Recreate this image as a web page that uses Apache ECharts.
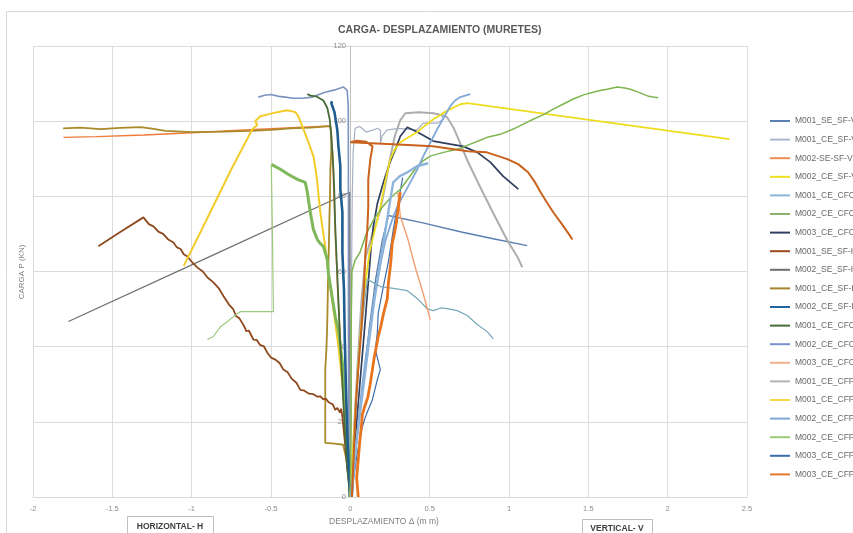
<!DOCTYPE html>
<html>
<head>
<meta charset="utf-8">
<script src="https://cdn.jsdelivr.net/npm/echarts@6/dist/echarts.min.js"></script>
<style>
html,body{margin:0;padding:0;background:#fff;}
#chart{width:853px;height:533px;}
</style>
</head>
<body>
<div id="chart"></div>
<script>
// ---- Axis ticks ----
const xTicks = [-2, -1.5, -1, -0.5, 0, 0.5, 1, 1.5, 2, 2.5];
const yTicks = [0, 20, 40, 60, 80, 100, 120];

// ---- Legend names (order as in reference) ----
const seriesNames = ["M001_SE_SF-V","M001_CE_SF-V","M002-SE-SF-V","M002_CE_SF-V","M001_CE_CFC-V","M002_CE_CFC-V","M003_CE_CFC-V","M001_SE_SF-H","M002_SE_SF-H","M001_CE_SF-H","M002_CE_SF-H","M001_CE_CFC-H","M002_CE_CFC-H","M003_CE_CFC-H","M001_CE_CFP-V","M001_CE_CFP-H","M002_CE_CFP-V","M002_CE_CFP-H","M003_CE_CFP-V","M003_CE_CFP-H"];

// ---- Data: [displacement mm, load kN] ----
const M001_SE_SF_V = [[0,0],[0.04,15],[0.08,30],[0.12,45],[0.16,58],[0.2,68],[0.24,74.9],[0.45,73],[0.7,70.5],[0.9,68.7],[1.115,66.9]];
const M001_CE_SF_V = [[0,0],[0.005,30],[0.008,60],[0.012,80],[0.018,92],[0.03,98.1],[0.06,98.6],[0.1,97.1],[0.14,97.6],[0.17,98.1],[0.19,97.5],[0.19,94],[0.2,96],[0.23,97.6],[0.3,98.1],[0.36,97.9],[0.42,97.6],[0.46,99.5],[0.55,99.5],[0.586,100.5],[0.57,102]];
const M002_SE_SF_V = [[0,0],[-0.02,10],[-0.04,25],[-0.06,40],[-0.08,55],[-0.095,70],[-0.105,82],[-0.112,92],[-0.126,98.7],[-0.4,98.2],[-0.7,97.6],[-1.0,96.9],[-1.3,96.3],[-1.6,95.9],[-1.808,95.7]];
const M002_SE_SF_V_b = [[0.01,0],[0.02,10],[0.035,25],[0.05,34],[0.07,45],[0.085,55],[0.095,65],[0.107,71.2],[0.113,77.3],[0.113,84.5],[0.126,89.9],[0.14,93.3],[0.1,94.5],[0.04,94.8],[0,94.4],[0.1,94.2],[0.3,93.8],[0.52,93.3],[0.74,92],[0.86,91.7],[0.99,89.9],[1.06,88.5],[1.12,86.4],[1.16,84],[1.2,81],[1.24,78.3],[1.28,75.7],[1.33,72.8],[1.37,70.4],[1.4,68.5]];
const M002_CE_SF_V = [[0,0],[0.02,15],[0.05,35],[0.08,52],[0.12,65],[0.16,72],[0.19,77.3],[0.22,84],[0.252,89.9],[0.28,92.5],[0.315,94.4],[0.37,95.8],[0.422,97.1],[0.47,98.8],[0.523,100.5],[0.58,102],[0.63,103.2],[0.693,104.5],[0.737,104.8],[2.39,95.2]];
const M001_CE_CFC_V = [[0.01,0],[0.03,20],[0.06,40],[0.09,52],[0.107,57.9],[0.19,56],[0.271,55.5],[0.359,54.9],[0.422,52.8],[0.485,50.1],[0.523,49.6],[0.57,50.3],[0.611,50.1],[0.674,49.6],[0.737,48.3],[0.8,45.9],[0.863,44],[0.901,42.1]];
const M002_CE_CFC_V = [[0,0],[0.005,20],[0.005,45],[0.01,60],[0.03,63],[0.06,65],[0.1,70],[0.15,74],[0.2,77],[0.25,79.5],[0.315,81.9],[0.37,85],[0.422,88],[0.46,89.5],[0.504,90.7],[0.586,91.7],[0.674,92.5],[0.756,93.9],[0.81,94.8],[0.863,95.7],[0.945,96.5],[1.027,97.9],[1.09,99.2],[1.153,100.5],[1.22,101.8],[1.279,103.2],[1.34,104.5],[1.405,105.9],[1.47,107],[1.531,107.7],[1.58,108.2],[1.619,108.5],[1.682,109.1],[1.73,108.8],[1.764,108.5],[1.81,107.8],[1.846,107.2],[1.88,106.6],[1.909,106.4],[1.94,106.2]];
const M003_CE_CFC_V = [[0,0],[0.03,15],[0.06,30],[0.09,45],[0.115,58],[0.13,66],[0.145,72],[0.17,78],[0.2,82.5],[0.22,85.3],[0.25,89],[0.284,92.5],[0.315,96],[0.359,98.4],[0.422,97.1],[0.523,94.7],[0.63,93.9],[0.712,93.3],[0.8,91.7],[0.882,89.1],[0.964,85.3],[1.059,81.9]];
const M001_SE_SF_H = [[0,0],[-0.02,8],[-0.035,15],[-0.05,21.3],[-0.058,23.5],[-0.065,22.5],[-0.082,23.7],[-0.095,23.2],[-0.11,24.6],[-0.139,25.3],[-0.155,26.2],[-0.17,26],[-0.19,26.8],[-0.208,26.7],[-0.235,27.4],[-0.26,27.5],[-0.29,28.3],[-0.315,28.5],[-0.34,30.4],[-0.37,31.5],[-0.395,33.2],[-0.422,33.9],[-0.445,35.6],[-0.47,36.5],[-0.5,37.1],[-0.523,38.4],[-0.545,40.1],[-0.57,40.5],[-0.59,41.8],[-0.611,41.9],[-0.64,44.3],[-0.655,44.1],[-0.67,45.5],[-0.7,47.6],[-0.72,48.1],[-0.737,49.9],[-0.765,51.2],[-0.8,53.5],[-0.83,55.6],[-0.863,57.1],[-0.9,58.4],[-0.93,60],[-0.965,61.1],[-0.996,62.4],[-1.027,64],[-1.05,64.6],[-1.07,66],[-1.095,66.5],[-1.115,67.7],[-1.15,68.6],[-1.18,70],[-1.21,70.6],[-1.241,72],[-1.27,72.6],[-1.304,74.4],[-1.45,70.5],[-1.588,66.7]];
const M002_SE_SF_H = [[0,0],[-0.004,40],[-0.004,81.1],[-0.9,63.7],[-1.777,46.7]];
const M001_CE_SF_H = [[0,0],[-0.01,5],[-0.025,10],[-0.045,13.9],[-0.1,14.2],[-0.158,14.4],[-0.158,24],[-0.158,33.9],[-0.15,40],[-0.145,47],[-0.142,54],[-0.139,60.5],[-0.135,67],[-0.132,74],[-0.128,80],[-0.126,87],[-0.12,92],[-0.12,96.5],[-0.126,98.7],[-0.25,98.3],[-0.378,98.1],[-0.5,97.7],[-0.63,97.4],[-0.8,97.2],[-0.995,97.1],[-1.166,97.4],[-1.25,98],[-1.323,98.4],[-1.45,98.2],[-1.575,97.9],[-1.7,98.3],[-1.81,98.1]];
const M002_CE_SF_H = [[0,0],[-0.01,8],[-0.02,18],[-0.028,30],[-0.035,42],[-0.04,55],[-0.05,65],[-0.05,75.7],[-0.063,82],[-0.063,88],[-0.075,93.3],[-0.082,97.6],[-0.1,102.4],[-0.12,104.8],[-0.115,105.3]];
const M001_CE_CFC_H = [[0,0],[-0.02,8],[-0.035,18],[-0.05,30],[-0.065,42],[-0.075,52],[-0.085,62],[-0.095,72],[-0.1,80],[-0.105,86],[-0.112,91],[-0.12,96],[-0.13,100.5],[-0.145,103.5],[-0.17,105.5],[-0.21,106.5],[-0.25,106.8],[-0.271,107.2]];
const M002_CE_CFC_H = [[-0.58,106.4],[-0.54,106.9],[-0.5,107.1],[-0.45,106.6],[-0.41,106.4],[-0.36,106.1],[-0.3,106.1],[-0.24,106.4],[-0.16,107.7],[-0.09,108.4],[-0.044,109.1],[-0.02,108.2],[-0.013,104],[-0.012,80],[-0.012,50],[-0.011,20],[-0.01,0]];
const M003_CE_CFC_H = [[0.3,81],[0.315,74.7],[0.36,69],[0.41,61],[0.46,54],[0.504,47.2]];
const M001_CE_CFP_V = [[0,0],[0.02,15],[0.045,35],[0.07,52],[0.095,63.7],[0.14,70],[0.19,76.3],[0.22,83],[0.252,90.4],[0.28,96],[0.315,100.3],[0.347,102.1],[0.43,102.4],[0.523,102.1],[0.58,101.6],[0.611,101],[0.649,98.4],[0.693,94.1],[0.737,89.6],[0.819,82.4],[0.901,75.5],[0.989,68.3],[1.058,63.5],[1.084,61.1]];
const M001_CE_CFP_H = [[0,0],[-0.015,10],[-0.03,20],[-0.05,30],[-0.075,40],[-0.1,48],[-0.12,54],[-0.139,59.7],[-0.158,66.7],[-0.175,71.5],[-0.189,75.7],[-0.2,80],[-0.208,83.7],[-0.22,87.5],[-0.233,90.7],[-0.265,94.5],[-0.296,97.9],[-0.315,100],[-0.328,101.3],[-0.347,102.4],[-0.4,102.9],[-0.46,102.4],[-0.52,101.8],[-0.567,101.3],[-0.6,100],[-0.586,99],[-0.617,97.9],[-0.75,87.2],[-0.9,74.3],[-1.05,61.5]];
const M002_CE_CFP_V = [[0.01,0],[0.04,15],[0.07,28],[0.1,38],[0.13,47],[0.16,55],[0.19,62],[0.22,68],[0.25,72],[0.27,74.5],[0.296,77.3],[0.33,80],[0.378,83.7],[0.42,87],[0.46,90.7],[0.5,94],[0.548,97.9],[0.59,101],[0.63,104],[0.66,105.5],[0.693,106.4],[0.756,107.2]];
const M002_CE_CFP_V_b = [[0.005,0],[0.03,12],[0.06,22],[0.09,32],[0.12,42],[0.15,52],[0.18,60],[0.21,68],[0.24,76],[0.27,83.7],[0.31,85.3],[0.36,86.4],[0.42,88],[0.49,88.8]];
const M002_CE_CFP_H = [[0,0],[-0.015,12],[-0.03,25],[-0.05,35.7],[-0.076,44.5],[-0.095,48],[-0.11,52],[-0.125,56],[-0.139,59.7],[-0.145,63.2],[-0.17,66.7],[-0.19,67.5],[-0.208,68.5],[-0.233,71.2],[-0.252,75.7],[-0.262,78.5],[-0.271,81.1],[-0.284,83.7],[-0.334,84.5],[-0.39,85.8],[-0.441,87.2],[-0.498,88.5]];
const M002_CE_CFP_H_b = [[-0.498,88.5],[-0.491,70],[-0.485,49.3],[-0.59,49.3],[-0.693,49.3],[-0.737,48],[-0.78,46.5],[-0.819,45.3],[-0.863,42.7],[-0.901,41.9]];
const M003_CE_CFP_V = [[0.013,0],[0.019,4.5],[0.044,11.7],[0.076,18.7],[0.095,21.3],[0.113,23.2],[0.139,25.9],[0.17,31.2],[0.189,33.9],[0.158,39.2],[0.17,43.7],[0.176,49],[0.208,56],[0.239,62.4],[0.271,71.2],[0.3,78],[0.33,85]];
const M003_CE_CFP_H = [[0.05,0],[0.04,5],[0.05,10],[0.06,15],[0.07,19],[0.076,22],[0.09,24],[0.11,26.5],[0.125,30],[0.139,33.9],[0.15,37],[0.164,40],[0.175,42.5],[0.19,45],[0.21,49],[0.233,52.8],[0.24,57],[0.252,61.3],[0.258,64],[0.264,67.5],[0.275,69.5],[0.284,71.5],[0.29,73],[0.296,75],[0.305,78],[0.315,81.1]];

// ---- series definitions (name, data, colour, width) ----
const defs = [
  ["M002_SE_SF-H", M002_SE_SF_H, "#6f6f6f", 1.2],
  ["M002_CE_CFC-H", M002_CE_CFC_H, "#7d93c0", 1.6],
  ["M002-SE-SF-V", M002_SE_SF_V, "#ee7a38", 1.4],
  ["M001_CE_SF-H", M001_CE_SF_H, "#a88a2a", 1.8],
  ["M001_SE_SF-H", M001_SE_SF_H, "#8e4a1e", 1.8],
  ["M001_CE_CFP-H", M001_CE_CFP_H, "#f3cc2a", 2],
  ["M002_CE_CFP-H", M002_CE_CFP_H, "#7fb858", 3],
  ["M002_CE_CFP-H", M002_CE_CFP_H_b, "#9cc97a", 1.2],
  ["M001_CE_CFC-H", M001_CE_CFC_H, "#4a6b3a", 1.8],
  ["M002_CE_SF-H", M002_CE_SF_H, "#1f5c8f", 2.6],
  ["M001_SE_SF-V", M001_SE_SF_V, "#5b7fb0", 1.4],
  ["M001_CE_CFP-V", M001_CE_CFP_V, "#adadad", 2],
  ["M001_CE_SF-V", M001_CE_SF_V, "#a7b0c4", 1.2],
  ["M003_CE_CFC-V", M003_CE_CFC_V, "#2f3f5f", 1.7],
  ["M003_CE_CFP-V", M003_CE_CFP_V, "#3d6baf", 1.2],
  ["M002_CE_SF-V", M002_CE_SF_V, "#eedc1e", 1.8],
  ["M002_CE_CFC-V", M002_CE_CFC_V, "#7db54e", 1.5],
  ["M002_CE_CFP-V", M002_CE_CFP_V, "#7fa8d8", 1.8],
  ["M002_CE_CFP-V", M002_CE_CFP_V_b, "#8db4da", 2.4],
  ["M001_CE_CFC-V", M001_CE_CFC_V, "#78a8b8", 1.2],
  ["M003_CE_CFC-H", M003_CE_CFC_H, "#f0a070", 1.4],
  ["M003_CE_CFP-H", M003_CE_CFP_H, "#e8741e", 2.8],
  ["M002-SE-SF-V", M002_SE_SF_V_b, "#c9621c", 2]
];

const legendColors = {
  "M001_SE_SF-V":"#5b7fb0","M001_CE_SF-V":"#a9b8d0","M002-SE-SF-V":"#ee8b50","M002_CE_SF-V":"#eee21e",
  "M001_CE_CFC-V":"#8db4da","M002_CE_CFC-V":"#8db36b","M003_CE_CFC-V":"#2f3f5f","M001_SE_SF-H":"#9b4a1c",
  "M002_SE_SF-H":"#6e6e6e","M001_CE_SF-H":"#a8842a","M002_CE_SF-H":"#2462a0","M001_CE_CFC-H":"#4a6b3a",
  "M002_CE_CFC-H":"#7a92d0","M003_CE_CFC-H":"#f3b08a","M001_CE_CFP-V":"#b5b5b5","M001_CE_CFP-H":"#f5d84a",
  "M002_CE_CFP-V":"#7fa8d8","M002_CE_CFP-H":"#9ccb74","M003_CE_CFP-V":"#3d6baf","M003_CE_CFP-H":"#e07a2e"
};

const series = defs.map(d => ({
  name: d[0], type: 'line', data: d[1], symbol: 'none', showSymbol: false,
  lineStyle: {color: d[2], width: d[3]}, itemStyle: {color: d[2]},
  emphasis: {disabled: true}, z: 3
}));

const chart = echarts.init(document.getElementById('chart'), null, {renderer: 'canvas'});
const FONT = 'Liberation Sans';
chart.setOption({
  animation: false,
  backgroundColor: '#ffffff',
  title: {
    text: 'CARGA- DESPLAZAMIENTO (MURETES)',
    left: 333, top: 20,
    textStyle: {fontFamily: FONT, fontSize: 10.5, fontWeight: 'bold', color: '#595959'}
  },
  grid: {left: 33, right: 106, top: 46, bottom: 36, containLabel: false},
  legend: {
    orient: 'vertical', left: 765, top: 110,
    icon: 'rect', itemWidth: 20, itemHeight: 2, itemGap: 6.6,
    data: seriesNames.map(n => ({name: n, itemStyle: {color: legendColors[n]}})),
    textStyle: {fontFamily: FONT, fontSize: 8.5, color: '#6a6a6a', lineHeight: 12},
    selectedMode: false
  },
  xAxis: {
    type: 'value', min: -2, max: 2.5, interval: 0.5,
    axisLine: {show: true, onZero: false, lineStyle: {color: '#d9d9d9'}},
    axisTick: {show: false},
    axisLabel: {fontFamily: FONT, fontSize: 7.5, color: '#8c8c8c', margin: 8, formatter: v => String(v)},
    splitLine: {show: true, lineStyle: {color: '#dcdcdc', width: 1}}
  },
  yAxis: {
    type: 'value', min: 0, max: 120, interval: 20,
    offset: -317,
    axisLine: {show: true, onZero: false, lineStyle: {color: '#bfbfbf'}},
    axisTick: {show: false},
    axisLabel: {fontFamily: FONT, fontSize: 7.5, color: '#8c8c8c', margin: 4},
    splitLine: {show: true, lineStyle: {color: '#dcdcdc', width: 1}}
  },
  graphic: [
    {type: 'rect', shape: {x: 6.5, y: 11.5, width: 860, height: 540}, style: {fill: 'none', stroke: '#d9d9d9', lineWidth: 1}, silent: true},
    {type: 'line', shape: {x1: 33, y1: 46.5, x2: 747, y2: 46.5}, style: {stroke: '#dcdcdc', lineWidth: 1}, silent: true, z: -1},
    {type: 'text', x: 22, y: 272, rotation: Math.PI / 2, style: {text: 'CARGA P (KN)', font: '8px "Liberation Sans"', fill: '#7f7f7f', align: 'center', verticalAlign: 'middle'}},
    {type: 'text', x: 384, y: 522, style: {text: 'DESPLAZAMIENTO Δ (m m)', font: '8.5px "Liberation Sans"', fill: '#7f7f7f', align: 'center', verticalAlign: 'middle'}},
    {type: 'rect', shape: {x: 127.5, y: 516.5, width: 86, height: 30}, style: {fill: '#ffffff', stroke: '#bfbfbf', lineWidth: 1}},
    {type: 'text', x: 170, y: 527, style: {text: 'HORIZONTAL- H', font: 'bold 8.5px "Liberation Sans"', fill: '#404040', align: 'center', verticalAlign: 'middle'}},
    {type: 'rect', shape: {x: 582.5, y: 519.5, width: 70, height: 30}, style: {fill: '#ffffff', stroke: '#bfbfbf', lineWidth: 1}},
    {type: 'text', x: 617, y: 529, style: {text: 'VERTICAL- V', font: 'bold 8.5px "Liberation Sans"', fill: '#404040', align: 'center', verticalAlign: 'middle'}}
  ],
  series: series
});
</script>
</body>
</html>
